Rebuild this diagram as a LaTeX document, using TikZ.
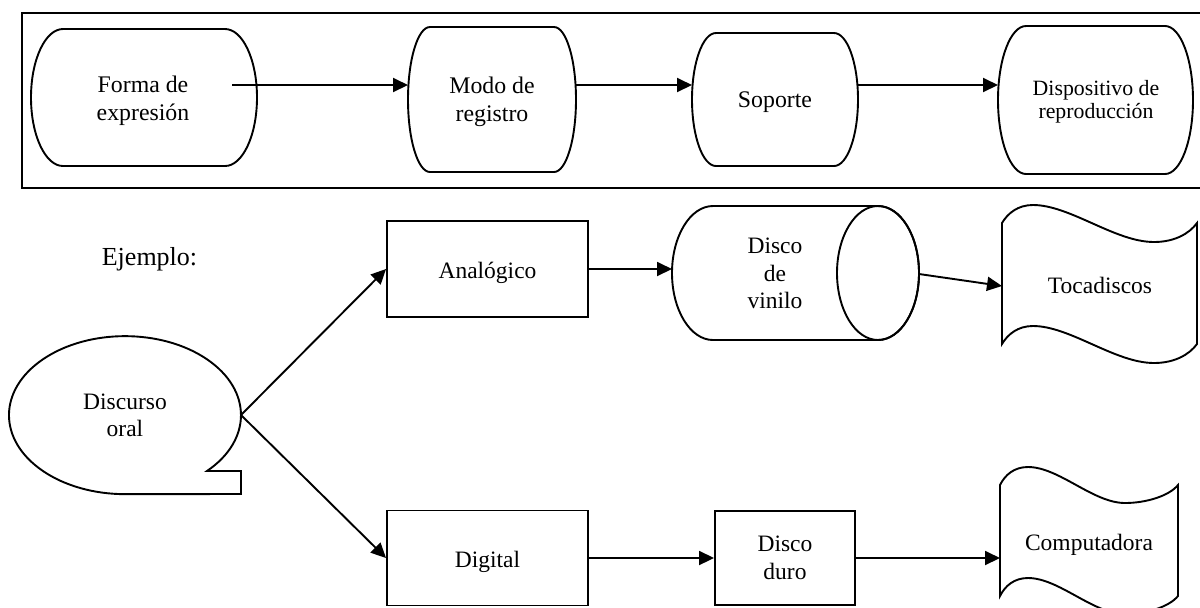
\documentclass[tikz,border=0pt]{standalone}
\usepackage{fontspec}
\setmainfont{Liberation Serif}
\usetikzlibrary{arrows.meta}
\tikzset{
 ln/.style={line width=0.95pt, black},
 arr/.style={ln, -{Triangle[length=7.5pt,width=7pt]}},
 txt/.style={align=center, inner sep=0pt, font=\fontsize{11.75}{13.75}\selectfont},
 txttop/.style={align=center, inner sep=0pt, font=\fontsize{11.9}{14.25}\selectfont},
 rectbox/.style={draw, ln, inner sep=0pt, align=center, font=\fontsize{11.75}{13.75}\selectfont},
 oneline/.style={text height=9pt, text depth=0pt},
}
\newcommand{\flatshape}[5]{\draw[ln] ({#1+#5},{-#3}) -- ({#2-#5},{-#3}) arc[start angle=90,end angle=-90,x radius=#5,y radius={(#4-#3)/2}] -- ({#1+#5},{-#4}) arc[start angle=270,end angle=90,x radius=#5,y radius={(#4-#3)/2}] -- cycle;}
\begin{document}
\begin{tikzpicture}[x=0.5pt,y=0.5pt]
\useasboundingbox (0,0) rectangle (1200,-607);
% frame
\draw[ln] (22,-13) rectangle (1204,-188);
% top row shapes
\flatshape{31}{257}{29}{166}{32}
\flatshape{408}{576}{27}{172}{22}
\flatshape{692}{858}{33}{166}{24}
\flatshape{998}{1193}{26}{174}{28}
\node[txttop] (forma) at (143,-100.7) {Forma de\\expresión};
\node[txttop] (modo) at (492,-102) {Modo de\\registro};
\node[txttop] (soporte) at (775,-102.5) {Soporte};
\node[txttop, font=\fontsize{10.9}{11.65}\selectfont] (dispo) at (1096,-101.7) {Dispositivo de\\reproducción};
\coordinate (formaS) at (232,-85);
\coordinate (modoL) at (408,-85);
\coordinate (modoR) at (576,-85);
\coordinate (sopL) at (692,-85);
\coordinate (sopR) at (858,-85);
\coordinate (dispL) at (998,-85);
\draw[arr] (formaS) -- (modoL);
\draw[arr] (modoR) -- (sopL);
\draw[arr] (sopR) -- (dispL);
% example
\node[inner sep=0pt, font=\fontsize{13}{15}\selectfont] (ej) at (149.5,-259) {Ejemplo:};
% speech bubble
\draw[ln] (241,-471) -- (207,-471) arc[start angle=-45,end angle=270,x radius=116,y radius=79] -- (241,-494) -- cycle;
\node[txt] (disc) at (125,-415.5) {Discurso\\oral};
\coordinate (discR) at (241,-415);
% boxes
\node[rectbox, oneline, minimum width=100.5pt, minimum height=48pt] (ana) at (487.5,-269) {Analógico};
\node[rectbox, oneline, minimum width=100.5pt, minimum height=47.5pt] (dig) at (487.5,-558) {Digital};
\node[rectbox, minimum width=70pt, minimum height=47pt] (duro) at (785,-558) {Disco\\duro};
% cylinder
\draw[ln] (713,-206) -- (878,-206) arc[start angle=90,end angle=-90,x radius=41,y radius=67] -- (713,-340) arc[start angle=270,end angle=90,x radius=41,y radius=67] -- cycle;
\draw[ln] (878,-273) ellipse [x radius=41, y radius=67];
\node[txt] (vinilo) at (775,-273.7) {Disco\\de\\vinilo};
\coordinate (cylL) at (672,-269);
\coordinate (cylR) at (919,-274);
% Tocadiscos
\draw[ln] (1002,-223) .. controls (1008,-213) and (1018,-205) .. (1033,-205) .. controls (1070,-205) and (1115,-242) .. (1154,-242) .. controls (1174,-242) and (1189,-234) .. (1197,-223) -- (1197,-344) .. controls (1189,-355) and (1174,-363) .. (1154,-363) .. controls (1115,-363) and (1070,-326) .. (1033,-326) .. controls (1018,-326) and (1008,-334) .. (1002,-344) -- cycle;
\node[txt] (toca) at (1100,-285) {Tocadiscos};
\coordinate (tocL) at (1002,-286);
% Computadora
\draw[ln] (1000,-485) .. controls (1005,-475) and (1014,-467) .. (1028,-467) .. controls (1059,-467) and (1093,-503) .. (1125,-503) .. controls (1146,-503) and (1169,-496) .. (1178,-485) -- (1178,-596) .. controls (1169,-607) and (1146,-614) .. (1125,-614) .. controls (1093,-614) and (1059,-578) .. (1028,-578) .. controls (1014,-578) and (1005,-586) .. (1000,-596) -- cycle;
\node[txt] (comp) at (1089,-544.5) {Computadora};
\coordinate (compL) at (1000,-558);
% connectors
\draw[arr] (discR) -- (ana.west);
\draw[arr] (discR) -- (dig.west);
\draw[arr] (ana.east) -- (cylL);
\draw[arr] (cylR) -- (tocL);
\draw[arr] (dig.east) -- (duro.west);
\draw[arr] (duro.east) -- (compL);
\end{tikzpicture}
\end{document}
